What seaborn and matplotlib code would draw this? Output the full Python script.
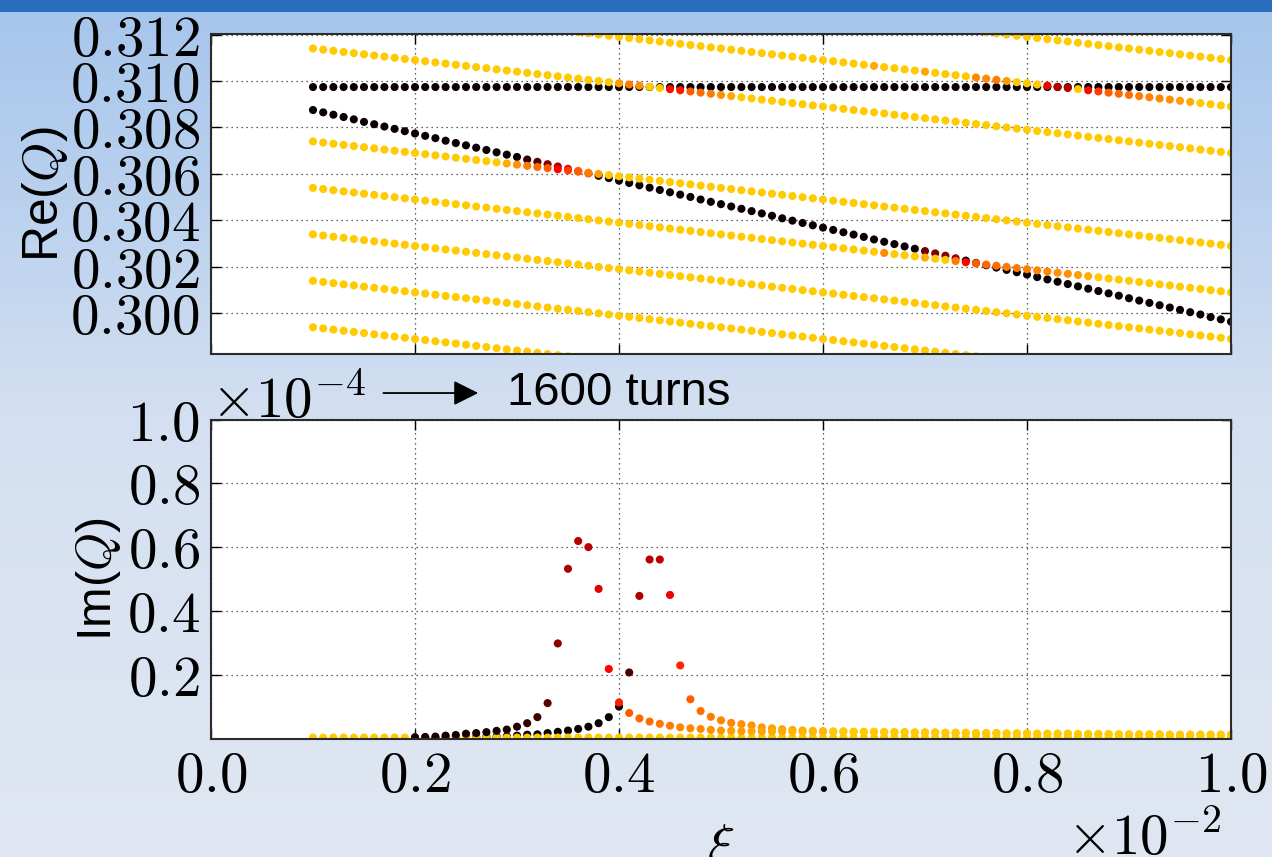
import numpy as np
import pandas as pd
import matplotlib
matplotlib.use("Agg")
import matplotlib.pyplot as plt
import seaborn as sns
from matplotlib.ticker import FixedLocator, FuncFormatter

# ---------------------------------------------------------------- data
# chromaticity xi (axis in units of 1e-2)
XI = [0.10, 0.11, 0.12, 0.13, 0.14, 0.15, 0.16, 0.17, 0.18, 0.19,
      0.20, 0.21, 0.22, 0.23, 0.24, 0.25, 0.26, 0.27, 0.28, 0.29,
      0.30, 0.31, 0.32, 0.33, 0.34, 0.35, 0.36, 0.37, 0.38, 0.39,
      0.40, 0.41, 0.42, 0.43, 0.44, 0.45, 0.46, 0.47, 0.48, 0.49,
      0.50, 0.51, 0.52, 0.53, 0.54, 0.55, 0.56, 0.57, 0.58, 0.59,
      0.60, 0.61, 0.62, 0.63, 0.64, 0.65, 0.66, 0.67, 0.68, 0.69,
      0.70, 0.71, 0.72, 0.73, 0.74, 0.75, 0.76, 0.77, 0.78, 0.79,
      0.80, 0.81, 0.82, 0.83, 0.84, 0.85, 0.86, 0.87, 0.88, 0.89,
      0.90, 0.91, 0.92, 0.93, 0.94, 0.95, 0.96, 0.97, 0.98, 0.99,
      1.00]

# Re(Q) of each mode, in units of 1e-5 (start index = xi in hundredths)
RE_FLAT = [30974, 30974, 30974, 30974, 30974, 30974, 30974, 30974, 30974, 30974,
           30974, 30974, 30974, 30974, 30974, 30974, 30974, 30974, 30974, 30974,
           30974, 30974, 30974, 30974, 30974, 30974, 30974, 30974, 30974, 30974,
           30974, 30974, 30974, 30974, 30974, 30974, 30974, 30974, 30974, 30974,
           30974, 30974, 30974, 30974, 30974, 30974, 30974, 30974, 30974, 30974,
           30974, 30974, 30974, 30974, 30974, 30974, 30974, 30974, 30974, 30974,
           30974, 30974, 30974, 30974, 30974, 30974, 30974, 30974, 30974, 30974,
           30974, 30974, 30974, 30974, 30974, 30974, 30974, 30974, 30974, 30974,
           30974, 30974, 30974, 30974, 30974, 30974, 30974, 30974, 30974, 30974,
           30974]
RE_DESC = [30875, 30865, 30855, 30845, 30835, 30824, 30814, 30804, 30794, 30784,
           30774, 30764, 30754, 30743, 30733, 30723, 30713, 30703, 30693, 30683,
           30673, 30662, 30652, 30642, 30632, 30622, 30612, 30602, 30592, 30582,
           30571, 30561, 30551, 30541, 30531, 30521, 30511, 30501, 30490, 30480,
           30470, 30460, 30450, 30440, 30430, 30420, 30409, 30399, 30389, 30379,
           30369, 30359, 30349, 30339, 30329, 30318, 30308, 30298, 30288, 30278,
           30268, 30258, 30248, 30237, 30227, 30217, 30207, 30197, 30187, 30177,
           30167, 30156, 30146, 30136, 30126, 30116, 30106, 30096, 30086, 30076,
           30065, 30055, 30045, 30035, 30025, 30015, 30005, 29995, 29984, 29974,
           29964]
RE_A = [31140, 31135, 31130, 31125, 31120, 31115, 31110, 31105, 31100, 31095,
        31090, 31085, 31080, 31075, 31070, 31065, 31060, 31055, 31050, 31045,
        31040, 31035, 31030, 31025, 31020, 31015, 31010, 31005, 31000, 30995,
        30990, 30985, 30980, 30975, 30970, 30965, 30960, 30955, 30950, 30945,
        30940, 30935, 30930, 30925, 30920, 30915, 30910, 30905, 30900, 30895,
        30890, 30885, 30880, 30875, 30870, 30865, 30860, 30855, 30850, 30845,
        30840, 30835, 30830, 30825, 30820, 30815, 30810, 30805, 30800, 30795,
        30790, 30785, 30780, 30775, 30770, 30765, 30760, 30755, 30750, 30745,
        30740, 30735, 30730, 30725, 30720, 30715, 30710, 30705, 30700, 30695,
        30690]
RE_B = [31210, 31205, 31200, 31195, 31190, 31185, 31180, 31175, 31170, 31165,
        31160, 31155, 31150, 31145, 31140, 31135, 31130, 31125, 31120, 31115,
        31110, 31105, 31100, 31095, 31090, 31085, 31080, 31075, 31070, 31065,
        31060, 31055, 31050, 31045, 31040, 31035, 31030, 31025, 31020, 31015,
        31010, 31005, 31000, 30995, 30990, 30985, 30980, 30975, 30970, 30965,
        30960, 30955, 30950, 30945, 30940, 30935, 30930, 30925, 30920, 30915,
        30910, 30905, 30900, 30895, 30890]
RE_C = [31210, 31205, 31200, 31195, 31190, 31185, 31180, 31175, 31170, 31165,
        31160, 31155, 31150, 31145, 31140, 31135, 31130, 31125, 31120, 31115,
        31110, 31105, 31100, 31095, 31090]
RE_D = [30740, 30735, 30730, 30725, 30720, 30715, 30710, 30705, 30700, 30695,
        30690, 30685, 30680, 30675, 30670, 30665, 30660, 30655, 30650, 30645,
        30640, 30635, 30630, 30625, 30620, 30615, 30610, 30605, 30600, 30595,
        30590, 30585, 30580, 30575, 30570, 30565, 30560, 30555, 30550, 30545,
        30540, 30535, 30530, 30525, 30520, 30515, 30510, 30505, 30500, 30495,
        30490, 30485, 30480, 30475, 30470, 30465, 30460, 30455, 30450, 30445,
        30440, 30435, 30430, 30425, 30420, 30415, 30410, 30405, 30400, 30395,
        30390, 30385, 30380, 30375, 30370, 30365, 30360, 30355, 30350, 30345,
        30340, 30335, 30330, 30325, 30320, 30315, 30310, 30305, 30300, 30295,
        30290]
RE_E = [30540, 30535, 30530, 30525, 30520, 30515, 30510, 30505, 30500, 30495,
        30490, 30485, 30480, 30475, 30470, 30465, 30460, 30455, 30450, 30445,
        30440, 30435, 30430, 30425, 30420, 30415, 30410, 30405, 30400, 30395,
        30390, 30385, 30380, 30375, 30370, 30365, 30360, 30355, 30350, 30345,
        30340, 30335, 30330, 30325, 30320, 30315, 30310, 30305, 30300, 30295,
        30290, 30285, 30280, 30275, 30270, 30265, 30260, 30255, 30250, 30245,
        30240, 30235, 30230, 30225, 30220, 30215, 30210, 30205, 30200, 30195,
        30190, 30185, 30180, 30175, 30170, 30165, 30160, 30155, 30150, 30145,
        30140, 30135, 30130, 30125, 30120, 30115, 30110, 30105, 30100, 30095,
        30090]
RE_F = [30340, 30335, 30330, 30325, 30320, 30315, 30310, 30305, 30300, 30295,
        30290, 30285, 30280, 30275, 30270, 30265, 30260, 30255, 30250, 30245,
        30240, 30235, 30230, 30225, 30220, 30215, 30210, 30205, 30200, 30195,
        30190, 30185, 30180, 30175, 30170, 30165, 30160, 30155, 30150, 30145,
        30140, 30135, 30130, 30125, 30120, 30115, 30110, 30105, 30100, 30095,
        30090, 30085, 30080, 30075, 30070, 30065, 30060, 30055, 30050, 30045,
        30040, 30035, 30030, 30025, 30020, 30015, 30010, 30005, 30000, 29995,
        29990, 29985, 29980, 29975, 29970, 29965, 29960, 29955, 29950, 29945,
        29940, 29935, 29930, 29925, 29920, 29915, 29910, 29905, 29900, 29895,
        29890]
RE_G = [30140, 30135, 30130, 30125, 30120, 30115, 30110, 30105, 30100, 30095,
        30090, 30085, 30080, 30075, 30070, 30065, 30060, 30055, 30050, 30045,
        30040, 30035, 30030, 30025, 30020, 30015, 30010, 30005, 30000, 29995,
        29990, 29985, 29980, 29975, 29970, 29965, 29960, 29955, 29950, 29945,
        29940, 29935, 29930, 29925, 29920, 29915, 29910, 29905, 29900, 29895,
        29890, 29885, 29880, 29875, 29870, 29865, 29860, 29855, 29850, 29845,
        29840, 29835, 29830, 29825, 29820, 29815, 29810, 29805]
RE_H = [29940, 29935, 29930, 29925, 29920, 29915, 29910, 29905, 29900, 29895,
        29890, 29885, 29880, 29875, 29870, 29865, 29860, 29855, 29850, 29845,
        29840, 29835, 29830, 29825, 29820, 29815, 29810, 29805]

# colour value of each point (0 = black ... 0.665 = gold on the "hot" map)
C_BLACK = 0.0
C_GOLD = 0.665
RECOLOR_DESC = {31: 0.06, 32: 0.12, 33: 0.18, 34: 0.24, 35: 0.30, 36: 0.40, 37: 0.45,
                70: 0.15, 71: 0.17, 72: 0.20, 73: 0.22, 75: 0.10}
RECOLOR_A = {40: 0.60, 41: 0.55, 42: 0.58, 45: 0.38, 46: 0.40, 47: 0.50, 48: 0.53,
             49: 0.55, 50: 0.58, 51: 0.62}
RECOLOR_B = {65: 0.62, 70: 0.61, 75: 0.57, 76: 0.57, 77: 0.55, 78: 0.60, 82: 0.36,
             83: 0.25, 84: 0.25, 86: 0.38, 87: 0.45, 88: 0.50, 89: 0.52, 90: 0.53,
             91: 0.55, 92: 0.56, 93: 0.57, 94: 0.58, 95: 0.60, 96: 0.62}
RECOLOR_D = {29: 0.62, 30: 0.58, 31: 0.55, 32: 0.52, 33: 0.50, 34: 0.37, 35: 0.45,
             36: 0.50, 37: 0.55, 38: 0.60}
RECOLOR_E = {66: 0.57, 70: 0.62, 73: 0.55, 74: 0.37, 75: 0.50, 76: 0.52, 77: 0.53,
             78: 0.55, 79: 0.55, 80: 0.55, 81: 0.56, 82: 0.57, 83: 0.58, 84: 0.58,
             85: 0.60, 86: 0.62}

# Im(Q) in units of 1e-4
IM_BASE = [0.003] * 91
IM_S1 = [0.004, 0.005, 0.006, 0.009, 0.011, 0.015, 0.017, 0.020, 0.024, 0.028,
         0.037, 0.048, 0.067, 0.111, 0.298, 0.532, 0.619, 0.600, 0.469, 0.218,
         0.113, 0.080, 0.063, 0.053, 0.046, 0.040, 0.035, 0.032, 0.030, 0.027,
         0.025, 0.024, 0.023, 0.023, 0.022, 0.022, 0.022, 0.022, 0.022, 0.022,
         0.022, 0.022, 0.022, 0.021, 0.021, 0.021, 0.020, 0.020, 0.020, 0.019,
         0.019, 0.019, 0.018, 0.018, 0.018, 0.017, 0.017, 0.017, 0.016, 0.016,
         0.016, 0.015, 0.015, 0.015, 0.015, 0.014, 0.014, 0.014, 0.014, 0.013,
         0.013, 0.013, 0.013, 0.013, 0.012, 0.012, 0.012, 0.012, 0.012, 0.012,
         0.012]
IM_S1_C = [0.02, 0.02, 0.02, 0.02, 0.02, 0.02, 0.02, 0.02, 0.02, 0.02,
           0.04, 0.06, 0.08, 0.12, 0.20, 0.24, 0.25, 0.26, 0.32, 0.37,
           0.41, 0.50, 0.52, 0.53, 0.54, 0.55, 0.56, 0.57, 0.57, 0.58,
           0.59, 0.60, 0.60, 0.61, 0.61, 0.62, 0.62, 0.63, 0.63, 0.64,
           0.64] + [C_GOLD] * 40
IM_S2 = [0.003, 0.003, 0.003, 0.004, 0.004, 0.005, 0.005, 0.006, 0.006, 0.007,
         0.009, 0.012, 0.013, 0.017, 0.021, 0.025, 0.030, 0.037, 0.048, 0.067,
         0.100, 0.207, 0.447, 0.561, 0.561, 0.450, 0.229, 0.123, 0.086, 0.068,
         0.057, 0.049, 0.045, 0.041, 0.035, 0.032, 0.029, 0.027, 0.025, 0.024,
         0.023, 0.022, 0.022, 0.021, 0.021, 0.021, 0.020, 0.020, 0.020, 0.019,
         0.019, 0.019, 0.018, 0.018, 0.018, 0.017, 0.017, 0.017, 0.016, 0.016,
         0.016, 0.015, 0.015, 0.015, 0.015, 0.014, 0.014, 0.014, 0.014, 0.013,
         0.013, 0.013, 0.013, 0.013, 0.012, 0.012, 0.012, 0.012, 0.012, 0.012,
         0.012]
IM_S2_C = [0.0] * 20 + [
           0.02, 0.10, 0.24, 0.26, 0.27, 0.35, 0.42, 0.50, 0.53, 0.55,
           0.56, 0.57, 0.58, 0.58, 0.59, 0.60, 0.60, 0.61, 0.62, 0.63,
           0.64] + [C_GOLD] * 40

TOP_YTICKS = [0.300, 0.302, 0.304, 0.306, 0.308, 0.310, 0.312]
XTICKS = [0.0, 0.2, 0.4, 0.6, 0.8, 1.0]
BOT_YTICKS = [0.2, 0.4, 0.6, 0.8, 1.0]

# ---------------------------------------------------------------- frames
TOP_SERIES = [
    (10, RE_FLAT, C_BLACK, {}),
    (10, RE_DESC, C_BLACK, RECOLOR_DESC),
    (10, RE_H, C_GOLD, {}),
    (10, RE_G, C_GOLD, {}),
    (10, RE_F, C_GOLD, {}),
    (10, RE_E, C_GOLD, RECOLOR_E),
    (10, RE_D, C_GOLD, RECOLOR_D),
    (10, RE_A, C_GOLD, RECOLOR_A),
    (36, RE_B, C_GOLD, RECOLOR_B),
    (76, RE_C, C_GOLD, {}),
]
frames = []
for start, vals, c0, rec in TOP_SERIES:
    i0 = start - 10
    n = len(vals)
    frames.append(pd.DataFrame({
        "xi": XI[i0:i0 + n],
        "val": np.array(vals, dtype=float) / 1e5,
        "c": [rec.get(start + i, c0) for i in range(n)],
    }))
df_top = pd.concat(frames, ignore_index=True)

BOT_SERIES = [
    (20, IM_S2, IM_S2_C),
    (10, IM_BASE, [C_GOLD] * len(IM_BASE)),
    (20, IM_S1, IM_S1_C),
]
frames = []
for start, vals, cols in BOT_SERIES:
    i0 = start - 10
    n = len(vals)
    frames.append(pd.DataFrame({"xi": XI[i0:i0 + n], "val": vals, "c": cols}))
df_bot = pd.concat(frames, ignore_index=True)

# ---------------------------------------------------------------- style
plt.rcParams["font.family"] = ["Liberation Sans", "DejaVu Sans"]
plt.rcParams["mathtext.fontset"] = "cm"

W, H = 1272, 857
fig = plt.figure(figsize=(W / 100, H / 100), dpi=100)

# slide background (gradient + title bar)
stops_y = [0, 11, 12, 200, 420, 857]
stops_c = np.array([[42, 110, 189], [42, 110, 189], [167, 198, 236],
                    [186, 209, 238], [212, 224, 241], [224, 231, 242]]) / 255.0
yy = np.arange(H)
grad = np.stack([np.interp(yy, stops_y, stops_c[:, k]) for k in range(3)], axis=-1)
bg = fig.add_axes([0, 0, 1, 1], zorder=-10)
bg.imshow(grad[:, None, :], aspect="auto", extent=[0, 1, 0, 1], interpolation="nearest")
bg.axis("off")

L, R = 211, 1231
ax1 = fig.add_axes([L / W, 1 - 354 / H, (R - L) / W, 319.7 / H])
ax2 = fig.add_axes([L / W, 1 - 738.5 / H, (R - L) / W, 319 / H])

for ax, df in ((ax1, df_top), (ax2, df_bot)):
    ax.set_facecolor("white")
    sns.scatterplot(data=df, x="xi", y="val", hue="c", palette="hot",
                    hue_norm=(0, 1), s=34, linewidth=0, legend=False, ax=ax)
    ax.set_xlim(0, 1.0)
    ax.xaxis.set_major_locator(FixedLocator(XTICKS))
    ax.set_axisbelow(True)
    ax.grid(True, linestyle=(0, (1, 3)), linewidth=0.9, color="#333333")
    ax.tick_params(direction="in", length=7, width=1, top=True, right=True,
                   pad=8, labelsize=41)
    for sp in ax.spines.values():
        sp.set_color("#2b2b2b")
        sp.set_linewidth(1.5)
    ax.set_xlabel("")

ax1.set_ylim(0.29825, 0.31201)
ax1.yaxis.set_major_locator(FixedLocator(TOP_YTICKS))
ax1.yaxis.set_major_formatter(FuncFormatter(lambda v, p: f"${v:.3f}$"))
ax1.tick_params(labelbottom=False)
ax1.set_ylabel("Re($Q$)", fontsize=36, labelpad=0)

ax2.set_ylim(0, 1.0)
ax2.yaxis.set_major_locator(FixedLocator(BOT_YTICKS))
ax2.yaxis.set_major_formatter(FuncFormatter(lambda v, p: f"${v:.1f}$"))
ax2.xaxis.set_major_formatter(FuncFormatter(lambda v, p: f"${v:.1f}$"))
ax2.set_ylabel("Im($Q$)", fontsize=35, labelpad=3)
ax2.set_xlabel(r"$\xi$", fontsize=41, labelpad=13)

ax2.text(0.0, 1.004, r"$\times10^{-4}$", transform=ax2.transAxes, fontsize=41,
         ha="left", va="baseline")
ax2.text(0.991, -0.366, r"$\times10^{-2}$", transform=ax2.transAxes, fontsize=41,
         ha="right", va="baseline")
ax2.annotate("", xy=(0.262, 1.083), xytext=(0.169, 1.083), xycoords="axes fraction",
             arrowprops=dict(arrowstyle="-|>", color="black", lw=1.3,
                             mutation_scale=38, shrinkA=0, shrinkB=0),
             annotation_clip=False)
ax2.text(0.290, 1.083, "1600 turns", transform=ax2.transAxes, fontsize=34,
         ha="left", va="center")

fig.savefig("out.png", dpi=100)
